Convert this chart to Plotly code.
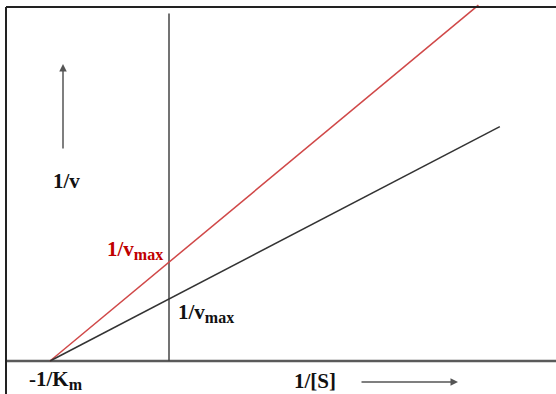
import plotly.graph_objects as go

# Lineweaver-Burk plot values (x in units of 1/Km)
neg_inv_km = -1.0
red_x = [-1.0, 0.0, 2.6]
red_y = [0.0, 0.83, 2.99]
black_x = [-1.0, 0.0, 2.78]
black_y = [0.0, 0.52, 1.97]
haxis_x = [-1.37, 3.3]
haxis_y = [0.0, 0.0]
vaxis_x = [0.0, 0.0]
vaxis_y = [0.0, 2.92]

W, H = 556, 394
PX = 119.0  # pixels per data unit
x0px, y0px = 169.0, 361.0
xr = [-x0px / PX, (W - x0px) / PX]
yr = [-(H - y0px) / PX, y0px / PX]

def dx(px):
    return (px - x0px) / PX

def dy(py):
    return (y0px - py) / PX

fig = go.Figure()
fig.add_trace(go.Scatter(x=haxis_x, y=haxis_y, mode="lines",
                         line=dict(color="#5a5a5a", width=2.5), hoverinfo="skip"))
fig.add_trace(go.Scatter(x=vaxis_x, y=vaxis_y, mode="lines",
                         line=dict(color="#444444", width=1.5), hoverinfo="skip"))
fig.add_trace(go.Scatter(x=red_x, y=red_y, mode="lines",
                         line=dict(color="#d04848", width=1.5), hoverinfo="skip"))
fig.add_trace(go.Scatter(x=black_x, y=black_y, mode="lines",
                         line=dict(color="#333333", width=1.5), hoverinfo="skip"))

font = dict(family="Liberation Serif, Times New Roman, serif", size=21, color="#111111")
SUB = "<sub><span style='font-size:16px'>%s</span></sub>"
annos = [
    dict(x=dx(66), y=dy(181), text="<b>1/v</b>", font=font),
    dict(x=dx(135), y=dy(250), text="<b>1/v" + SUB % "max" + "</b>",
         font=dict(font, color="#c00000")),
    dict(x=dx(206), y=dy(313), text="<b>1/v" + SUB % "max" + "</b>", font=font),
    dict(x=neg_inv_km + dx(56) - dx(50), y=dy(380), text="<b>-1/K" + SUB % "m" + "</b>", font=font),
    dict(x=dx(315), y=dy(381), text="<b>1/[S]</b>", font=font),
]
for a in annos:
    a.update(showarrow=False, xref="x", yref="y", xanchor="center", yanchor="middle")
    fig.add_annotation(**a)

# arrows
fig.add_annotation(x=dx(63), y=dy(64), ax=dx(63), ay=dy(150), xref="x", yref="y",
                   axref="x", ayref="y", showarrow=True, arrowhead=2, arrowsize=1,
                   arrowwidth=1.5, arrowcolor="#555555", text="")
fig.add_annotation(x=dx(458), y=dy(382), ax=dx(360), ay=dy(382), xref="x", yref="y",
                   axref="x", ayref="y", showarrow=True, arrowhead=2, arrowsize=1,
                   arrowwidth=1.5, arrowcolor="#555555", text="")

# frame (top and left edges)
fig.add_shape(type="line", xref="paper", yref="paper", x0=6 / W, x1=1, y0=1 - 7 / H, y1=1 - 7 / H,
              line=dict(color="#222222", width=2))
fig.add_shape(type="line", xref="paper", yref="paper", x0=6 / W, x1=6 / W, y0=0, y1=1 - 7 / H,
              line=dict(color="#222222", width=2))

fig.update_layout(
    width=W, height=H, autosize=False,
    margin=dict(l=0, r=0, t=0, b=0),
    paper_bgcolor="white", plot_bgcolor="white",
    showlegend=False,
    xaxis=dict(range=xr, visible=False, fixedrange=True),
    yaxis=dict(range=yr, visible=False, fixedrange=True),
)
fig.write_html("out.html", config={"staticPlot": True},
               post_script="document.body.style.margin='0';document.body.style.overflow='hidden';")
